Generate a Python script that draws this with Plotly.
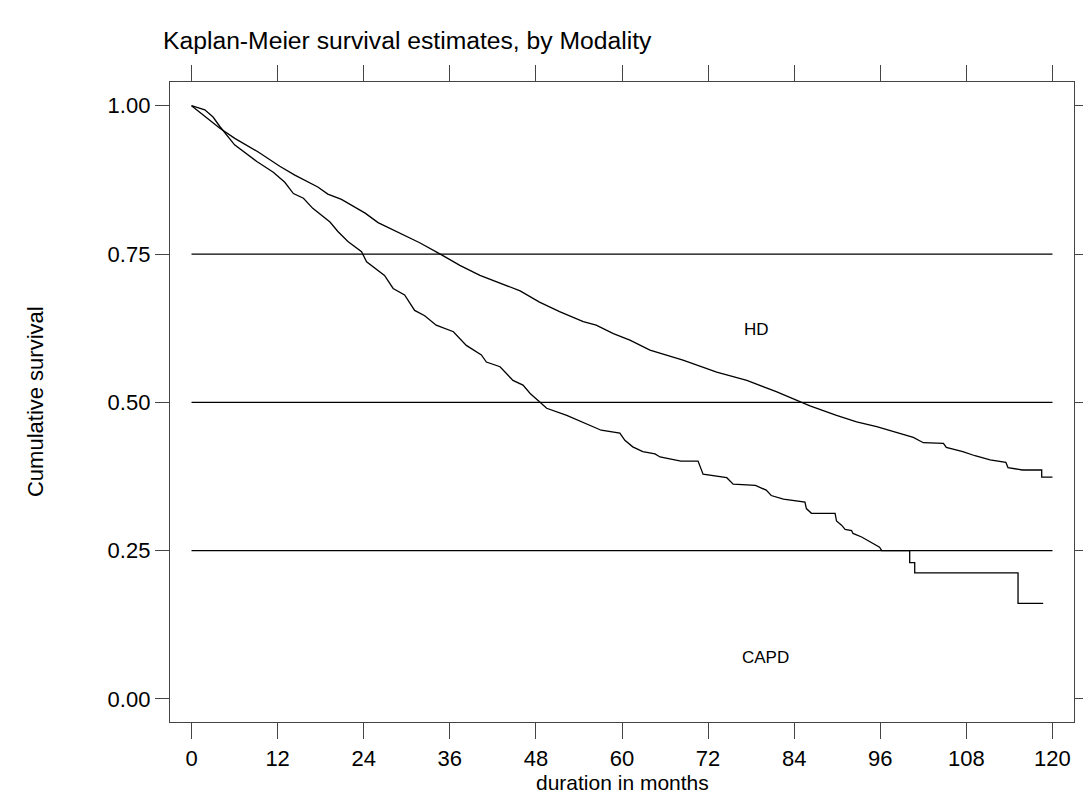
import plotly.graph_objects as go

# ---- data ----
hd_time = [0, 3.95, 6.03, 9.3, 12.3, 14.4, 17.6, 19.0, 20.9, 24.2,
           26.0, 29.7, 31.8, 34.8, 37.4, 40.2, 43.9, 45.8, 48.5, 51.3,
           54.6, 56.4, 58.8, 61.1, 63.9, 68.5, 73.2, 77.4, 81.5, 85.0,
           86.2, 89.9, 92.7, 95.5, 98.7, 100.6, 102.0, 104.8, 105.2, 107.5,
           109.2, 111.3, 113.5, 113.8, 115.8, 118.5, 118.5, 120]
hd_surv = [1.0, 0.962, 0.945, 0.922, 0.898, 0.883, 0.863, 0.851, 0.842, 0.819,
           0.803, 0.782, 0.769, 0.749, 0.731, 0.714, 0.696, 0.688, 0.669, 0.653,
           0.636, 0.630, 0.616, 0.605, 0.588, 0.571, 0.551, 0.537, 0.518, 0.501,
           0.494, 0.478, 0.467, 0.459, 0.448, 0.441, 0.432, 0.431, 0.424, 0.417,
           0.410, 0.403, 0.399, 0.390, 0.386, 0.386, 0.374, 0.374]

capd_time = [0, 1.85, 3.0, 3.95, 6.0, 7.4, 9.1, 11.4, 13.0, 14.2,
             15.6, 16.9, 18.1, 19.3, 20.4, 21.8, 23.7, 24.4, 26.9, 28.1,
             29.7, 31.1, 32.5, 34.1, 36.5, 38.3, 40.4, 41.1, 43.0, 44.8,
             46.2, 47.2, 48.5, 49.5, 52.3, 54.1, 56.0, 57.1, 59.7, 60.4,
             61.5, 62.9, 64.6, 65.3, 68.2, 70.6, 71.3, 74.6, 75.5, 78.6,
             80.1, 80.8, 82.5, 85.5, 85.7, 86.4, 89.7, 89.9, 90.6, 91.1,
             92.0, 92.2, 93.4, 94.5, 95.9, 96.2, 100.1, 100.1, 100.8, 100.8,
             115.2, 115.2, 118.7]
capd_surv = [1.0, 0.993, 0.981, 0.965, 0.934, 0.921, 0.906, 0.888, 0.871, 0.852,
             0.844, 0.827, 0.816, 0.804, 0.788, 0.771, 0.754, 0.737, 0.714, 0.692,
             0.681, 0.655, 0.646, 0.630, 0.619, 0.596, 0.580, 0.568, 0.560, 0.537,
             0.529, 0.515, 0.501, 0.490, 0.478, 0.469, 0.459, 0.453, 0.448, 0.436,
             0.425, 0.417, 0.413, 0.408, 0.401, 0.401, 0.379, 0.373, 0.362, 0.360,
             0.352, 0.343, 0.337, 0.332, 0.321, 0.313, 0.313, 0.300, 0.293, 0.286,
             0.284, 0.279, 0.273, 0.265, 0.256, 0.250, 0.250, 0.230, 0.230, 0.2125,
             0.2125, 0.161, 0.161]

x_ticks = [0, 12, 24, 36, 48, 60, 72, 84, 96, 108, 120]
y_ticks = [0.00, 0.25, 0.50, 0.75, 1.00]
ref_lines = [0.25, 0.50, 0.75]

group_labels = ["HD", "CAPD"]
label_x = [78.8, 80.0]
label_y = [0.622, 0.070]

FONT = "Liberation Sans, Arial, sans-serif"

fig = go.Figure()
fig.add_trace(go.Scatter(x=hd_time, y=hd_surv, mode="lines",
                         line=dict(color="black", width=1.3), name="HD",
                         showlegend=False))
fig.add_trace(go.Scatter(x=capd_time, y=capd_surv, mode="lines",
                         line=dict(color="black", width=1.3), name="CAPD",
                         showlegend=False))

for v in ref_lines:
    fig.add_shape(type="line", xref="x", yref="y",
                  x0=x_ticks[0], x1=x_ticks[-1], y0=v, y1=v,
                  line=dict(color="black", width=1.3), layer="below")

for t, xx, yy in zip(group_labels, label_x, label_y):
    fig.add_annotation(x=xx, y=yy, xref="x", yref="y", text=t, showarrow=False,
                       font=dict(family=FONT, size=17, color="black"))

fig.add_annotation(x=-0.1493, y=0.5, xref="paper", yref="paper",
                   text="Cumulative survival", textangle=-90, showarrow=False,
                   xanchor="center", yanchor="middle",
                   font=dict(family=FONT, size=22, color="black"))
fig.add_annotation(x=0.5, y=-0.094, xref="paper", yref="paper",
                   text="duration in months", showarrow=False,
                   xanchor="center", yanchor="middle",
                   font=dict(family=FONT, size=21, color="black"))

fig.update_layout(
    width=1083, height=799, autosize=False,
    margin=dict(l=170, r=9, t=82, b=77, autoexpand=False),
    paper_bgcolor="white", plot_bgcolor="white",
    title=dict(text="Kaplan-Meier survival estimates, by Modality",
               x=163 / 1083, xref="container", xanchor="left",
               y=1 - 40 / 799, yref="container", yanchor="middle",
               font=dict(family=FONT, size=24.7, color="black")),
    xaxis=dict(range=[-3.0, 123.0], tickvals=x_ticks, ticks="outside",
               ticklen=16, tickwidth=1.3, tickcolor="#444", automargin=False,
               showline=True, linecolor="#444", linewidth=1.3, mirror="ticks",
               showgrid=False, zeroline=False,
               tickfont=dict(family=FONT, size=22, color="black")),
    yaxis=dict(range=[-0.0388, 1.04], tickvals=y_ticks, tickformat=".2f",
               ticks="outside", ticklen=14, tickwidth=1.3, tickcolor="#444",
               automargin=False,
               showline=True, linecolor="#444", linewidth=1.3, mirror="ticks",
               showgrid=False, zeroline=False,
               tickfont=dict(family=FONT, size=22, color="black")),
)

post = ("document.body.style.margin='0';"
        "document.body.style.padding='0';"
        "document.body.style.overflow='hidden';"
        "Plotly.relayout('{plot_id}', {width:1083, height:799});")

fig.write_html("out.html",
               config={"responsive": False, "displayModeBar": False},
               post_script=post)
